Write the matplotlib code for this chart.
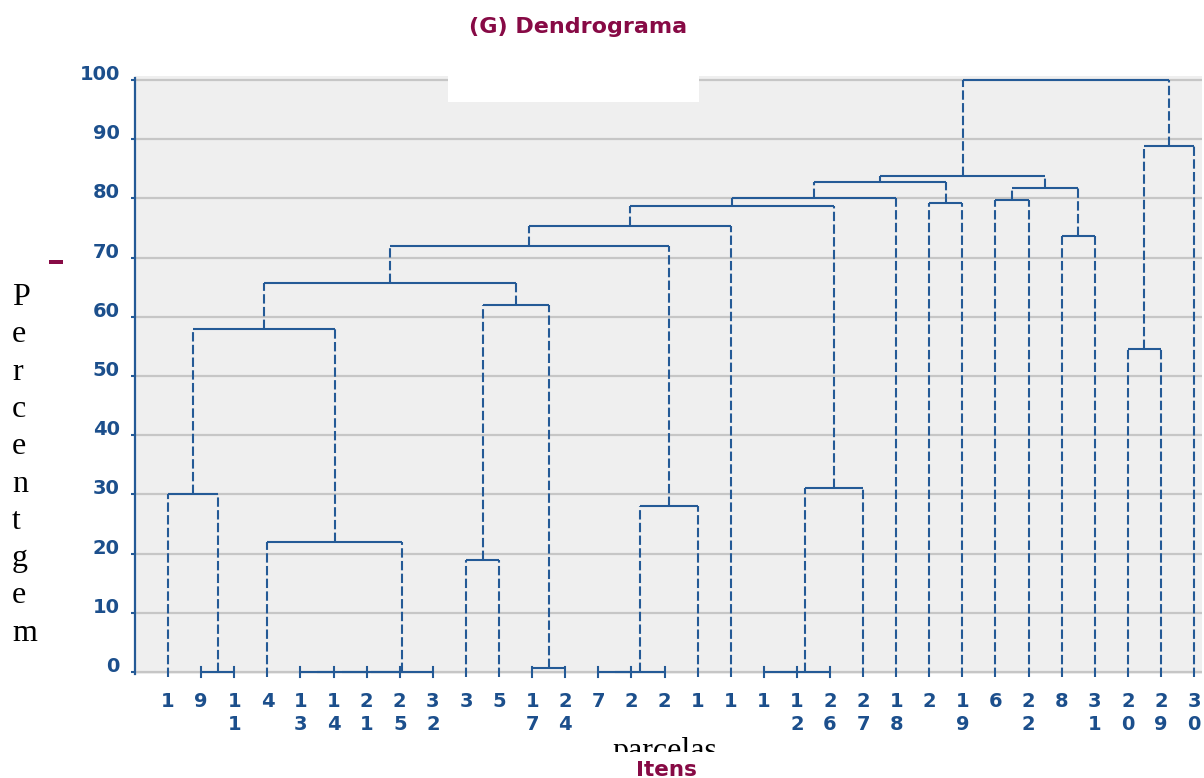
import matplotlib
matplotlib.use('Agg')
import matplotlib.pyplot as plt
from matplotlib.patches import Rectangle
from matplotlib.transforms import Bbox, TransformedBbox

# leaf labels in the order they appear along the axis
leaf_labels = ['1', '9', '11', '4', '13', '14', '21', '25', '32', '3', '5', '17', '24',
               '7', '2', '2', '1', '1', '1', '12', '26', '27', '18', '2', '19', '6',
               '22', '8', '31', '20', '29', '30']

# linkage: node ids 0..31 are leaves, each merge creates node 32, 33, ...
merge_left = [1, 0, 4, 34, 35, 36, 3, 33, 9, 11, 40, 39, 13, 44, 45, 43, 47, 18, 49, 50,
              48, 52, 23, 53, 25, 27, 56, 55, 29, 60, 59]
merge_right = [2, 32, 5, 6, 7, 8, 37, 38, 10, 12, 41, 42, 14, 15, 16, 46, 17, 19, 20, 21,
               51, 22, 24, 54, 26, 28, 57, 58, 30, 31, 61]
merge_height = [0.0, 30.0, 0.0, 0.0, 0.0, 0.0, 22.0, 57.9, 18.9, 0.7, 62.0, 65.7, 0.0, 0.0,
                28.1, 72.0, 75.3, 0.0, 0.0, 31.0, 78.8, 80.0, 79.2, 82.8, 79.7, 73.7, 81.7,
                83.8, 54.5, 88.9, 100.0]

y_ticks = list(range(0, 101, 10))

blue = '#245a96'
text_blue = '#1c4f8c'
maroon = '#870a45'
W, H = 1204, 778


def fx(px):
    return px / W


def fy(py):
    return 1 - py / H


fig = plt.figure(figsize=(W / 100, H / 100), dpi=100)
ax = fig.add_axes([fx(135), fy(674), 1067 / W, 598 / H])
ax.set_facecolor('#efefef')

# node positions from the linkage
n_leaves = len(leaf_labels)
xs = [float(i) for i in range(n_leaves)]
hs = [-0.8] * n_leaves
parent = {}
for l, r, hh in zip(merge_left, merge_right, merge_height):
    node = len(xs)
    xs.append((xs[l] + xs[r]) / 2)
    hs.append(hh)
    parent[l] = node
    parent[r] = node

# horizontal joins (solid)
for l, r, hh in zip(merge_left, merge_right, merge_height):
    ax.plot([xs[l], xs[r]], [hh, hh], color=blue, lw=1.5, solid_capstyle='butt',
            clip_on=False, zorder=3)

# vertical links (dashed), short solid ticks for leaves merged near zero
for node, p in parent.items():
    bottom = hs[node]
    top = hs[p]
    if node < n_leaves and top < 1:
        ax.plot([xs[node], xs[node]], [-0.8, max(top, 0.8)], color=blue, lw=1.5,
                clip_on=False, zorder=3)
    elif top - bottom > 0:
        ax.plot([xs[node], xs[node]], [bottom, top], color=blue, lw=1.5,
                linestyle=(0, (4.5, 1.6)), clip_on=False, zorder=3)

ax.set_xlim(-1, 31.24)
ax.set_ylim(-0.34, 100.68)

ax.set_yticks(y_ticks)
ax.set_yticklabels([str(v) for v in y_ticks])
for lab in ax.get_yticklabels():
    lab.set_va('baseline')
    lab.set_fontweight('bold')
ax.tick_params(axis='y', length=3, width=1.5, color=blue, pad=8,
               labelsize=14, labelcolor=text_blue)

ax.set_xticks(range(n_leaves))
ax.set_xticklabels(['\n'.join(s) for s in leaf_labels])
for lab in ax.get_xticklabels():
    lab.set_fontweight('bold')
    lab.set_linespacing(1.25)
ax.tick_params(axis='x', length=0, pad=13, labelsize=14, labelcolor=text_blue)

ax.yaxis.grid(True, color='#c6c6c6', lw=1.6)
ax.set_axisbelow(True)
for s in ['top', 'right', 'bottom']:
    ax.spines[s].set_visible(False)
ax.spines['left'].set_color(blue)
ax.spines['left'].set_linewidth(1.6)
ax.spines['left'].set_bounds(-0.4, 100.3)

fig.text(fx(578), fy(33), '(G) Dendrograma', ha='center', va='baseline',
         color=maroon, fontsize=16, fontweight='bold')

# white patch over the top of the plot area
fig.add_artist(Rectangle((fx(448), fy(102)), 251 / W, 41 / H, transform=fig.transFigure,
                         facecolor='white', edgecolor='none', zorder=10))

# small maroon mark left of the axis
fig.add_artist(Rectangle((fx(49), fy(264)), 14 / W, 4 / H, transform=fig.transFigure,
                         facecolor=maroon, edgecolor='none', zorder=10))

# vertical stacked y label
for i, ch in enumerate('Percentgem'):
    fig.text(fx(12), fy(305 + 37.3 * i), ch, ha='left', va='baseline',
             fontsize=23, family='Liberation Serif', color='black')

# x label "Itens" partly hidden by the "parcelas" box
fig.text(fx(666), fy(776), 'Itens', ha='center', va='baseline', color=maroon,
         fontsize=15.5, fontweight='bold', zorder=5)
fig.add_artist(Rectangle((fx(592), fy(761)), 195 / W, 49 / H, transform=fig.transFigure,
                         facecolor='white', edgecolor='none', zorder=10))
t = fig.text(fx(665), fy(759), 'parcelas', ha='center', va='baseline', color='black',
             fontsize=23, family='Liberation Serif', zorder=11)
t.set_clip_box(TransformedBbox(Bbox([[fx(592), fy(752)], [fx(787), fy(712)]]),
                               fig.transFigure))

fig.savefig('out.png', dpi=100)
